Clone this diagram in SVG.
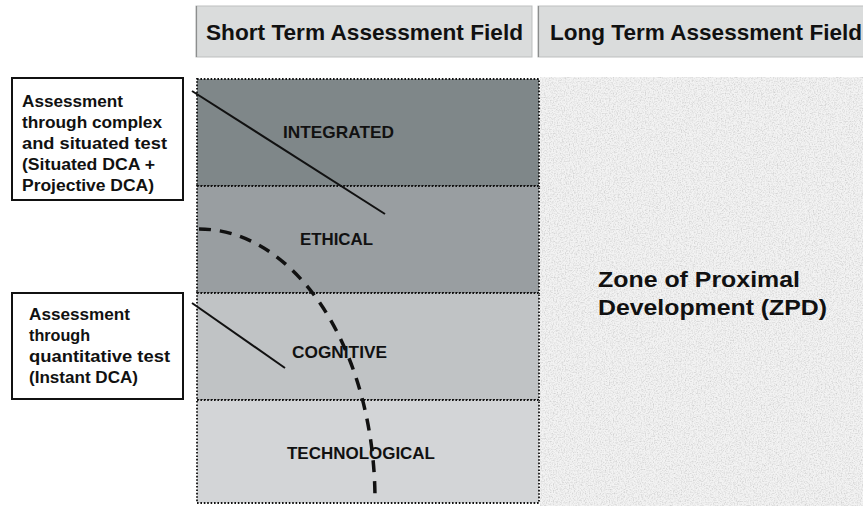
<svg xmlns="http://www.w3.org/2000/svg" width="863" height="506" viewBox="0 0 863 506">
  <style>
    .hdr { fill: #dadcdc; stroke: #bdbfbf; stroke-width: 1; }
    .hdr-edge { stroke: #8c8e8e; stroke-width: 1.2; }
    .hdr-text { font-family: "Liberation Sans", Arial, sans-serif; font-weight: bold; font-size: 22px; fill: #111; }
    .row { stroke: #111; stroke-width: 1.8; stroke-dasharray: 1.6 1.8; }
    .row-text { font-family: "Liberation Sans", Arial, sans-serif; font-weight: bold; font-size: 17px; fill: #111; }
    .box { fill: #ffffff; stroke: #111; stroke-width: 2; }
    .box-text { font-family: "Liberation Sans", Arial, sans-serif; font-weight: bold; font-size: 16px; fill: #111; }
    .zpd-text { font-family: "Liberation Sans", Arial, sans-serif; font-weight: bold; font-size: 22px; fill: #111; }
    .solid { fill: none; stroke: #111; stroke-width: 2; }
    .dashed { fill: none; stroke: #111; stroke-width: 3.5; stroke-dasharray: 12 9; }
  </style>
  <defs>
    <filter id="noise" x="0" y="0" width="100%" height="100%">
      <feTurbulence type="fractalNoise" baseFrequency="0.75" numOctaves="2" seed="4" result="t"/>
      <feColorMatrix in="t" type="matrix" values="1.1 0 0 0 0.35  1.1 0 0 0 0.35  1.1 0 0 0 0.35  0 0 0 0 0.5" result="n"/>
      <feComposite in="n" in2="SourceGraphic" operator="in"/>
    </filter>
  </defs>

  <rect width="863" height="506" fill="#ffffff"/>

  <g id="header-short">
    <rect class="hdr" x="196" y="6" width="336" height="51"/>
    <line class="hdr-edge" x1="196.5" y1="6" x2="196.5" y2="57"/>
    <text class="hdr-text" x="206" y="40" textLength="317" lengthAdjust="spacingAndGlyphs">Short Term Assessment Field</text>
  </g>
  <g id="header-long">
    <rect class="hdr" x="538" y="6" width="330" height="51"/>
    <line class="hdr-edge" x1="538.5" y1="6" x2="538.5" y2="57"/>
    <text class="hdr-text" x="550" y="40" textLength="312" lengthAdjust="spacingAndGlyphs">Long Term Assessment Field</text>
  </g>

  <g id="zpd">
    <rect x="540" y="77" width="323" height="429" fill="#e6e6e6"/>
    <rect x="540" y="77" width="323" height="429" fill="#e6e6e6" filter="url(#noise)"/>
    <text class="zpd-text" x="598" y="287" textLength="202" lengthAdjust="spacingAndGlyphs">Zone of Proximal</text>
    <text class="zpd-text" x="598" y="315" textLength="229" lengthAdjust="spacingAndGlyphs">Development (ZPD)</text>
  </g>

  <g id="row-integrated">
    <rect class="row" x="197" y="79" width="342" height="107" fill="#7f8789"/>
    <text class="row-text" x="283" y="138" textLength="111" lengthAdjust="spacingAndGlyphs">INTEGRATED</text>
  </g>
  <g id="row-ethical">
    <rect class="row" x="197" y="186" width="342" height="107" fill="#999ea1"/>
    <text class="row-text" x="300" y="245" textLength="73" lengthAdjust="spacingAndGlyphs">ETHICAL</text>
  </g>
  <g id="row-cognitive">
    <rect class="row" x="197" y="293" width="342" height="107" fill="#c0c3c5"/>
    <text class="row-text" x="292" y="358" textLength="95" lengthAdjust="spacingAndGlyphs">COGNITIVE</text>
  </g>
  <g id="row-technological">
    <rect class="row" x="197" y="400" width="342" height="103" fill="#d3d5d7"/>
    <text class="row-text" x="287" y="459" textLength="148" lengthAdjust="spacingAndGlyphs">TECHNOLOGICAL</text>
  </g>

  <g id="box-complex">
    <rect class="box" x="12" y="78" width="171" height="122"/>
    <text class="box-text" x="22" y="107" textLength="101" lengthAdjust="spacingAndGlyphs">Assessment</text>
    <text class="box-text" x="22" y="128" textLength="140" lengthAdjust="spacingAndGlyphs">through complex</text>
    <text class="box-text" x="22" y="149" textLength="145" lengthAdjust="spacingAndGlyphs">and situated test</text>
    <text class="box-text" x="22" y="170" textLength="133" lengthAdjust="spacingAndGlyphs">(Situated DCA +</text>
    <text class="box-text" x="22" y="191" textLength="132" lengthAdjust="spacingAndGlyphs">Projective DCA)</text>
  </g>
  <g id="box-quantitative">
    <rect class="box" x="12" y="293" width="171" height="106"/>
    <text class="box-text" x="29" y="320" textLength="101" lengthAdjust="spacingAndGlyphs">Assessment</text>
    <text class="box-text" x="29" y="341" textLength="61" lengthAdjust="spacingAndGlyphs">through</text>
    <text class="box-text" x="29" y="362" textLength="141" lengthAdjust="spacingAndGlyphs">quantitative test</text>
    <text class="box-text" x="29" y="383" textLength="109" lengthAdjust="spacingAndGlyphs">(Instant DCA)</text>
  </g>

  <g id="connectors">
    <line class="solid" x1="192" y1="91" x2="385" y2="214"/>
    <line class="solid" x1="192" y1="303" x2="285" y2="368"/>
    <path class="dashed" d="M 199 229 A 176 271 0 0 1 375 500"/>
  </g>
</svg>
